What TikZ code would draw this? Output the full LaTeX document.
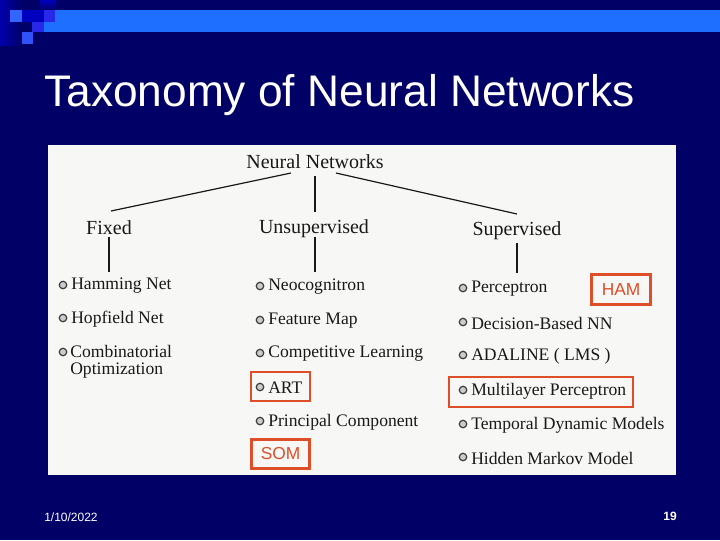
\documentclass[tikz,border=0pt]{standalone}
\usepackage{fontspec}
\setmainfont{Liberation Serif}
\newfontfamily\arialf{Liberation Sans}
\definecolor{navy}{RGB}{0,0,102}
\definecolor{barblue}{RGB}{30,110,255}
\definecolor{sqlight}{RGB}{50,100,255}
\definecolor{sqdark}{RGB}{0,0,190}
\definecolor{sqmid}{RGB}{40,40,235}
\definecolor{hired}{RGB}{222,78,40}
\definecolor{paper}{RGB}{247,247,245}
\definecolor{ink}{RGB}{25,25,25}
\begin{document}
\begin{tikzpicture}[x=0.75pt,y=-0.75pt,
  item/.style={anchor=west,inner sep=0pt,font=\fontsize{13.2}{12.8}\selectfont,text=ink},
  head/.style={inner sep=0pt,font=\fontsize{15}{17}\selectfont,text=ink},
  dot/.style={circle,draw=ink!85,fill=gray!40,line width=0.9pt,inner sep=0pt,minimum size=5.6pt},
  hl/.style={draw=hired,line width=2.2pt},
  hlbox/.style={hl,text=hired,font=\arialf\fontsize{13}{13}\selectfont,inner sep=0pt,minimum width=44pt,minimum height=22pt},
  tree/.style={draw=ink,line width=0.9pt}
]
\useasboundingbox (0,0) rectangle (720,540);
\fill[navy] (0,0) rectangle (720,540);
% decoration
\shade[left color=sqdark!80!navy,right color=navy] (0,0) rectangle (22,45);
\shade[top color=sqdark,bottom color=navy] (40,0) rectangle (56,10);
\fill[barblue] (44,10) rectangle (720,32);
\fill[sqlight] (10,10) rectangle (22,22);
\fill[sqdark] (22,10) rectangle (44,22);
\fill[sqmid] (44,10) rectangle (55,22);
\fill[sqmid] (32,22) rectangle (44,32);
\fill[sqlight!70!sqmid] (22,32) rectangle (33,44);
% title
\node[anchor=base west,inner sep=0pt,text=white,font=\arialf\fontsize{33.2}{36}\selectfont] (title) at (44,106) {Taxonomy of Neural Networks};
% scanned figure
\fill[paper] (48,145) rectangle (676,475);
\node[head] (nn) at (315,162) {Neural Networks};
\node[head] (fixed) at (109,228) {Fixed};
\node[head] (unsup) at (314,229) {Unsupervised};
\node[head] (sup) at (517,231) {Supervised};
\coordinate (nnL) at (291,173);
\coordinate (nnM) at (315,176);
\coordinate (nnR) at (336,173);
\coordinate (fixT) at (111,211);
\coordinate (unsT) at (315,212);
\coordinate (supT) at (517,214);
\coordinate (fixB) at (109,237);
\coordinate (fixE) at (109,272);
\coordinate (unsB) at (315,237);
\coordinate (unsE) at (315,272);
\coordinate (supB) at (517,243);
\coordinate (supE) at (517,273);
\draw[tree] (nnL) -- (fixT);
\draw[tree] (nnM) -- (unsT);
\draw[tree] (nnR) -- (supT);
\draw[tree] (fixB) -- (fixE);
\draw[tree] (unsB) -- (unsE);
\draw[tree] (supB) -- (supE);
% column 1
\node[dot] (d11) at (63,285) {};
\node[item] (hamming) at (71,286) {Hamming Net};
\node[dot] (d12) at (63,318) {};
\node[item] (hopfield) at (71,319) {Hopfield Net};
\node[dot] (d13) at (63,352) {};
\node[item,align=left] (comb) at (70,361.5) {Combinatorial\\Optimization};
% column 2
\node[dot] (d21) at (260,286) {};
\node[item] (neo) at (268,287) {Neocognitron};
\node[dot] (d22) at (260,320) {};
\node[item] (fmap) at (268,321) {Feature Map};
\node[dot] (d23) at (260,353) {};
\node[item] (comp) at (268,354) {Competitive Learning};
\node[dot] (d24) at (260,387) {};
\node[item] (art) at (268,388) {ART};
\node[dot] (d25) at (260,421) {};
\node[item] (pca) at (268,422) {Principal Component};
\node[hlbox] (som) at (280.5,454) {SOM};
% column 3
\node[dot] (d31) at (463,288) {};
\node[item] (perc) at (471,289) {Perceptron};
\node[hlbox] (ham) at (621,289.5) {HAM};
\node[dot] (d32) at (463,322) {};
\node[item] (dbnn) at (471,323) {Decision-Based NN};
\node[dot] (d33) at (463,355) {};
\node[item] (adaline) at (471,356) {ADALINE ( LMS )};
\node[dot] (d34) at (463,390) {};
\node[item] (mlp) at (471,391) {Multilayer Perceptron};
\node[dot] (d35) at (463,424) {};
\node[item] (tdm) at (471,425) {Temporal Dynamic Models};
\node[dot] (d36) at (463,457) {};
\node[item] (hmm) at (471,458) {Hidden Markov Model};
% highlight frames
\draw[hl] (251,372) rectangle (310,401);
\draw[hl] (449,377) rectangle (633,407);
% footer
\node[anchor=west,inner sep=0pt,text=white,font=\arialf\fontsize{9}{10}\selectfont] (date) at (44,517) {1/10/2022};
\node[anchor=east,inner sep=0pt,text=white,font=\arialf\bfseries\fontsize{9}{10}\selectfont] (page) at (677,516) {19};
\end{tikzpicture}
\end{document}
